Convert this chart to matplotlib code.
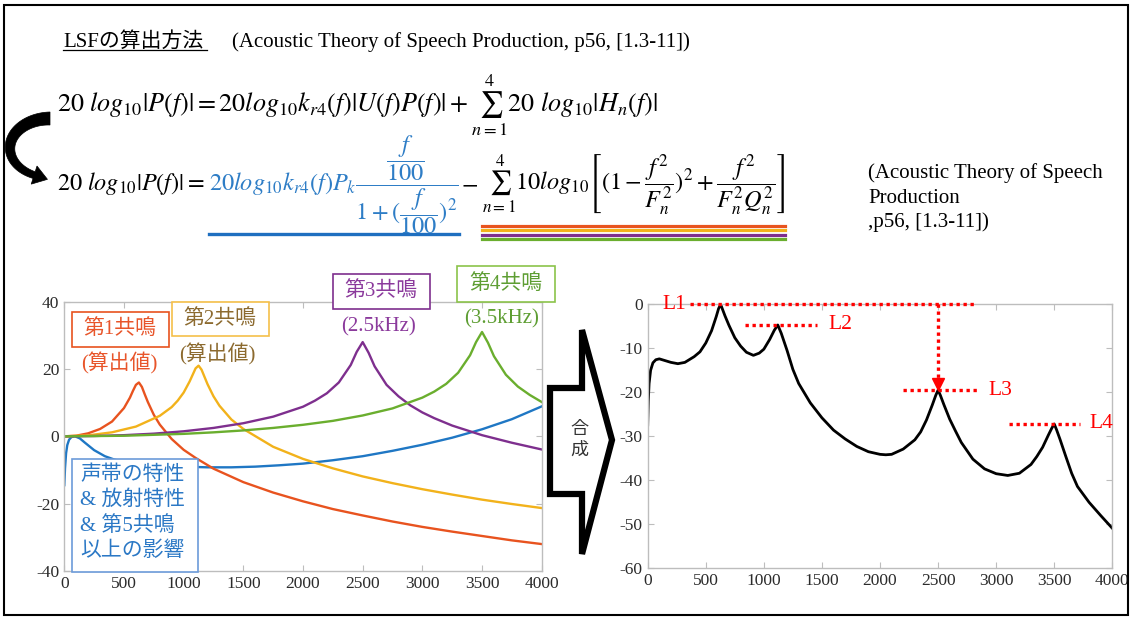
import numpy as np
import matplotlib
matplotlib.use("Agg")
import matplotlib.pyplot as plt
from matplotlib.patches import Rectangle, Polygon
from matplotlib.lines import Line2D

plt.rcParams['font.family'] = ['Liberation Serif', 'Noto Sans CJK JP']
plt.rcParams['mathtext.fontset'] = 'stix'
plt.rcParams['axes.unicode_minus'] = False

# ---- component responses (left panel), freq in Hz, level in dB ----
f_src = [0, 6, 15, 25, 40, 60, 90, 130, 170, 250, 340, 420, 500, 630, 800,
         1000, 1200, 1400, 1600, 1800, 2000, 2250, 2500, 2750, 3000, 3250,
         3500, 3750, 4000]
db_src = [-14.5, -9.5, -5.0, -2.6, -1.0, -0.2, 0.0, -0.6, -1.8, -4.1, -5.9,
          -6.9, -7.6, -8.2, -8.6, -9.0, -9.2, -9.2, -9.0, -8.6, -8.1, -7.1,
          -5.9, -4.3, -2.5, -0.4, 2.1, 5.1, 8.9]

f_f1 = [0, 100, 200, 300, 400, 500, 550, 575, 600, 625, 650, 675, 700, 750,
        800, 900, 1000, 1100, 1250, 1500, 1750, 2000, 2250, 2500, 2750, 3000,
        3250, 3500, 3750, 4000]
db_f1 = [0.0, 0.2, 0.9, 2.2, 4.4, 8.4, 11.5, 13.5, 15.3, 16.0, 14.7, 12.4,
         10.2, 6.4, 3.5, -0.8, -4.0, -6.4, -9.6, -13.6, -16.7, -19.3, -21.6,
         -23.5, -25.3, -26.9, -28.3, -29.6, -30.9, -32.0]

f_f2 = [0, 200, 400, 600, 800, 900, 950, 1000, 1050, 1100, 1125, 1150, 1200,
        1250, 1300, 1400, 1500, 1750, 2000, 2250, 2500, 2750, 3000, 3250,
        3500, 3750, 4000]
db_f2 = [0.0, 0.3, 1.2, 2.9, 6.1, 8.7, 10.6, 13.0, 16.3, 20.2, 21.0, 19.8,
         15.5, 11.9, 9.1, 5.0, 2.2, -3.1, -6.7, -9.5, -11.9, -13.9, -15.7,
         -17.3, -18.8, -20.1, -21.3]

f_f3 = [0, 250, 500, 750, 1000, 1250, 1500, 1750, 2000, 2100, 2200, 2300,
        2400, 2450, 2500, 2550, 2600, 2700, 2800, 2900, 3000, 3100, 3250,
        3500, 3750, 4000]
db_f3 = [0.0, 0.1, 0.35, 0.8, 1.5, 2.5, 3.9, 5.85, 8.8, 10.6, 12.8, 16.0,
         21.2, 25.1, 28.0, 24.8, 20.8, 15.3, 11.9, 9.2, 7.1, 5.4, 3.2, 0.35,
         -1.9, -3.9]

f_f4 = [0, 500, 1000, 1250, 1500, 1750, 2000, 2250, 2500, 2750, 3000, 3100,
        3200, 3300, 3400, 3450, 3500, 3550, 3600, 3700, 3800, 3900, 4000]
db_f4 = [0.0, 0.18, 0.74, 1.19, 1.76, 2.5, 3.43, 4.6, 6.2, 8.3, 11.5, 13.3,
         15.6, 18.9, 24.1, 28.0, 31.0, 27.8, 23.8, 18.3, 14.8, 12.3, 10.2]

# ---- synthesized spectrum (right panel) ----
f_sum = [0, 5, 12, 25, 45, 70, 100, 150, 200, 260, 320, 400, 450, 500, 550,
         590, 610, 628, 645, 665, 700, 750, 800, 850, 910, 960, 1000, 1050,
         1090, 1120, 1150, 1200, 1250, 1300, 1400, 1500, 1600, 1700, 1800,
         1900, 2000, 2050, 2100, 2200, 2300, 2350, 2400, 2450, 2480, 2500,
         2520, 2550, 2600, 2650, 2700, 2800, 2900, 3000, 3100, 3200, 3300,
         3350, 3400, 3450, 3480, 3500, 3520, 3550, 3600, 3650, 3700, 3800,
         3900, 4000]
db_sum = [-27.4, -22.0, -18.0, -15.0, -13.3, -12.6, -12.4, -12.8, -13.2,
          -13.5, -13.2, -11.9, -10.8, -8.8, -6.0, -2.8, -1.0, 0.0, -1.2, -2.6,
          -4.8, -7.6, -9.5, -10.9, -11.6, -11.1, -10.2, -8.0, -5.9, -4.7,
          -6.6, -10.5, -14.8, -18.0, -22.4, -25.8, -28.6, -30.6, -32.3, -33.5,
          -34.1, -34.2, -34.1, -32.9, -30.8, -29.0, -26.3, -22.9, -20.7, -19.5,
          -20.7, -22.8, -26.1, -28.8, -31.4, -35.2, -37.4, -38.5, -38.9, -38.4,
          -36.4, -34.6, -32.5, -29.7, -28.1, -27.2, -28.5, -30.7, -34.6, -38.4,
          -41.4, -45.0, -48.0, -50.9]

xticks = [0, 500, 1000, 1500, 2000, 2500, 3000, 3500, 4000]
level_names = ['L1', 'L2', 'L3', 'L4']
formant_windows = [(500, 800), (1000, 1300), (2300, 2700), (3300, 3700)]

c_blue = '#1F77C4'
c_red = '#E8531F'
c_orange = '#F2B21B'
c_purple = '#7E2F8E'
c_green = '#6AAE2E'

W, H = 1132, 617


def fx(x):
    return x / W


def fy(y):
    return 1 - y / H


def style_axes(ax):
    for s in ax.spines.values():
        s.set_color('#bdbdbd')
        s.set_linewidth(1.0)
    ax.tick_params(direction='in', top=True, right=True, length=4,
                   color='#bdbdbd', labelcolor='#2b2b2b', labelsize=12.5)
    ax.set_xlim(0, 4000)
    ax.set_xticks(xticks)


fig = plt.figure(figsize=(11.32, 6.17), dpi=100)

# ---- left panel: individual components ----
ax1 = fig.add_axes([fx(64.3), fy(571), fx(541.7) - fx(64.3), fy(301.7) - fy(571)])
style_axes(ax1)
ax1.plot(f_src, db_src, color=c_blue, lw=1.7)
ax1.plot(f_f1, db_f1, color=c_red, lw=1.7)
ax1.plot(f_f2, db_f2, color=c_orange, lw=1.7)
ax1.plot(f_f3, db_f3, color=c_purple, lw=1.7)
ax1.plot(f_f4, db_f4, color=c_green, lw=1.7)
ax1.set_ylim(-40, 40)
ax1.set_yticks([-40, -20, 0, 20, 40])

# ---- right panel: synthesized spectrum ----
ax2 = fig.add_axes([fx(647.7), fy(568.3), fx(1112.3) - fx(647.7), fy(304.3) - fy(568.3)])
style_axes(ax2)
ax2.plot(f_sum, db_sum, color='black', lw=2.0)
ax2.set_ylim(-60, 0)
ax2.set_yticks([-60, -50, -40, -30, -20, -10, 0])

# peak levels of the synthesized spectrum
levels = []
for lo, hi in formant_windows:
    levels.append(max(d for f, d in zip(f_sum, db_sum) if lo <= f <= hi))

dot = dict(color='red', lw=2.4, linestyle=(0, (1, 1.1)), clip_on=False, zorder=4)
spans = [(364, 2833), (838, 1455), (2201, 2833), (3111, 3722)]
label_x = [123, 1553, 2931, 3801]
for name, lv, (a, b), lx in zip(level_names, levels, spans, label_x):
    ax2.plot([a, b], [lv, lv], **dot)
    ax2.text(lx, lv, name, color='red', fontsize=15.5, va='center', ha='left')
ax2.plot([2500, 2500], [levels[0], levels[2] + 1.6], **dot)
ax2.plot([2500], [levels[2] + 1.4], marker='v', color='red', ms=8,
         clip_on=False, zorder=4)

# ---- annotation boxes on the left panel ----
boxes = [
    (72, 312, 169, 347, c_red),
    (172, 302, 269, 336, '#F5C04A'),
    (333, 274, 430, 309, c_purple),
    (457, 266, 555, 302, '#8BC34A'),
    (72, 459, 198, 572, '#6C9BD9'),
]
for x0, y0, x1, y1, ec in boxes:
    fig.add_artist(Rectangle((fx(x0), fy(y1)), fx(x1) - fx(x0), fy(y0) - fy(y1),
                             transform=fig.transFigure, facecolor='white',
                             edgecolor=ec, lw=1.2, zorder=3))

notes = [
    (120, 329, '第1共鳴', '#E8552A'),
    (119, 363, '(算出値)', '#E8552A'),
    (220, 319, '第2共鳴', '#8C6A2F'),
    (217, 354, '(算出値)', '#8C6A2F'),
    (381, 291, '第3共鳴', '#8B3A9C'),
    (379, 327, '(2.5kHz)', '#8B3A9C'),
    (506, 284, '第4共鳴', '#5E9E33'),
    (502, 319, '(3.5kHz)', '#5E9E33'),
]
for x, y, s, c in notes:
    fig.text(fx(x), fy(y), s, color=c, fontsize=15, ha='center', va='center', zorder=4)

src_lines = ['声帯の特性', '& 放射特性', '& 第5共鳴', '以上の影響']
for i, s in enumerate(src_lines):
    fig.text(fx(80), fy(475 + 25.3 * i), s, color='#2B78C5', fontsize=15,
             ha='left', va='center', zorder=4)

# ---- big outlined arrow between the panels ----
arrow_pts = [(550, 388), (582, 388), (582, 330), (612, 440), (582, 554),
             (582, 494), (550, 494)]
fig.add_artist(Polygon([(fx(x), fy(y)) for x, y in arrow_pts], closed=True,
                       transform=fig.transFigure, facecolor='white',
                       edgecolor='black', lw=4.5, joinstyle='miter'))
fig.text(fx(579), fy(440), '合\n成', fontsize=13, color='#333333',
         ha='center', va='center', linespacing=1.3)

# ---- title and equations ----
fig.text(fx(63), fy(47), 'LSFの算出方法', fontsize=15, va='baseline')
fig.add_artist(Line2D([fx(63), fx(207)], [fy(50), fy(50)], color='black',
                      lw=0.9, transform=fig.transFigure))
fig.text(fx(232), fy(47), '(Acoustic Theory of Speech Production, p56, [1.3-11])',
         fontsize=15, va='baseline')

eq1 = (r'$20\ log_{10}|P(f)| = 20log_{10}k_{r4}(f)|U(f)P(f)| + '
       r'\sum_{n=1}^{4}20\ log_{10}|H_n(f)|$')
fig.text(fx(57), fy(112), eq1, fontsize=18.8, va='baseline')

renderer = fig.canvas.get_renderer()
eq_a = r'$20\ log_{10}|P(f)| =\ $'
eq_b = (r'$20log_{10}k_{r4}(f)P_k\dfrac{\dfrac{f}{100}}'
        r'{1+(\dfrac{f}{100})^2}$')
eq_c = r'$-$'
eq_d = (r'$\sum_{n=1}^{4}10log_{10}\left[(1-\dfrac{f^2}{F_n^2})^2+'
        r'\dfrac{f^2}{F_n^2Q_n^2}\right]$')
base = fy(190)
fs2 = 17.5
ta = fig.text(fx(57), base, eq_a, fontsize=fs2, va='baseline')
bb = ta.get_window_extent(renderer)
tb = fig.text(bb.x1 / W + 0.004, base, eq_b, fontsize=fs2, va='baseline', color='#2E7DC6')
bb_b = tb.get_window_extent(renderer)
tc = fig.text(bb_b.x1 / W + 0.002, base, eq_c, fontsize=fs2, va='baseline')
bb = tc.get_window_extent(renderer)
td = fig.text(bb.x1 / W + 0.003, base, eq_d, fontsize=fs2, va='baseline')
bb_d = td.get_window_extent(renderer)

fig.add_artist(Line2D([bb_b.x0 / W, bb_b.x1 / W], [fy(233.7), fy(233.7)],
                      color='#1F6FC0', lw=2.4, transform=fig.transFigure))
for yy, c in zip([225.7, 230.3, 235.0, 239.0], [c_red, c_orange, c_purple, c_green]):
    fig.add_artist(Line2D([bb_d.x0 / W, bb_d.x1 / W], [fy(yy), fy(yy)],
                          color=c, lw=2.3, transform=fig.transFigure))

for i, s in enumerate(['(Acoustic Theory of Speech', 'Production', ',p56, [1.3-11])']):
    fig.text(fx(868), fy(178 + 24.5 * i), s, fontsize=15, va='baseline')

# curved arrow between the two equation lines: tapering C-shaped band + head
cx, cy, rx, ry = 50, 148, 40, 29.5
s = np.linspace(0, 0.87 * np.pi, 60)
px = cx - rx * np.sin(s)
py = cy - ry * np.cos(s)
tx, ty = -rx * np.cos(s), ry * np.sin(s)
tn = np.hypot(tx, ty)
tx, ty = tx / tn, ty / tn
nx, ny = -ty, tx
half = np.linspace(6.5, 3.5, s.size)
outer = list(zip(px + nx * half, py + ny * half))
inner = list(zip(px - nx * half, py - ny * half))
ex, ey, dx, dy = px[-1], py[-1], tx[-1], ty[-1]
hw, hl = 9.5, 14
head = [(ex + nx[-1] * hw, ey + ny[-1] * hw), (ex + dx * hl, ey + dy * hl),
        (ex - nx[-1] * hw, ey - ny[-1] * hw)]
band = outer + head + inner[::-1]
fig.add_artist(Polygon([(fx(x), fy(y)) for x, y in band], closed=True,
                       transform=fig.transFigure, facecolor='black',
                       edgecolor='black', lw=0.5))

# slide frame
fig.add_artist(Rectangle((fx(4), fy(615)), fx(1128) - fx(4), fy(5) - fy(615),
                         transform=fig.transFigure, fill=False,
                         edgecolor='black', lw=1.5))

fig.savefig('out.png', dpi=100)
